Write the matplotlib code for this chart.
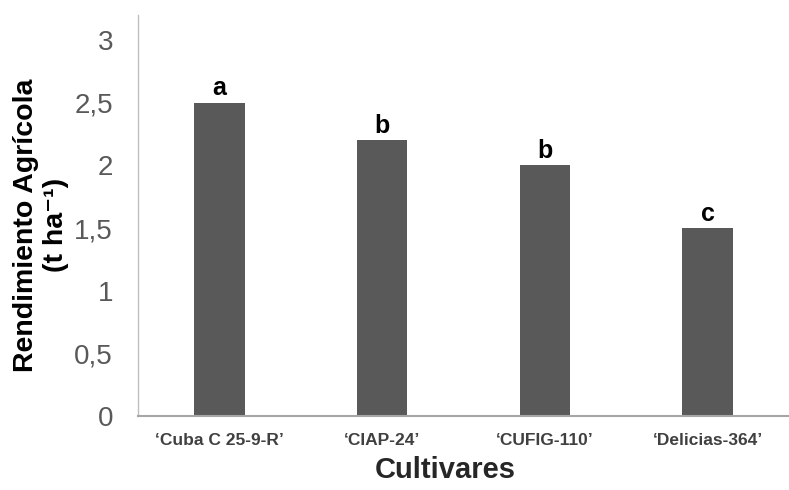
import matplotlib
matplotlib.use("Agg")
import matplotlib.pyplot as plt

# data
cultivares = ["\u2018Cuba C 25-9-R\u2019", "\u2018CIAP-24\u2019", "\u2018CUFIG-110\u2019", "\u2018Delicias-364\u2019"]
rendimiento = [2.5, 2.2, 2.0, 1.5]
letras = ["a", "b", "b", "c"]
yticks = [0, 0.5, 1, 1.5, 2, 2.5, 3]
ytick_labels = ["0", "0,5", "1", "1,5", "2", "2,5", "3"]

fuente = ["Liberation Sans", "DejaVu Sans"]

fig = plt.figure(figsize=(7.89, 4.90), dpi=100)
ax = fig.add_axes([0.175, 0.151, 0.825, 0.818])

x = range(len(cultivares))
ax.bar(x, rendimiento, width=0.31, color="#595959", zorder=2)

# significance letters above bars
for i, (v, l) in enumerate(zip(rendimiento, letras)):
    ax.text(i, v + 0.02, l, ha="center", va="bottom", fontsize=18,
            fontweight="bold", family=fuente, color="black")

ax.set_xlim(-0.5, 3.5)
ax.set_ylim(0, 3.2)
ax.set_yticks(yticks)
ax.set_yticklabels(ytick_labels, family=fuente, fontsize=20, color="#595959")
ax.set_xticks(list(x))
ax.set_xticklabels(cultivares, family=fuente, fontsize=12.5, fontweight="bold", color="#404040")
ax.tick_params(axis="y", length=0, pad=18)
ax.tick_params(axis="x", length=0, pad=12)

for s in ["top", "right"]:
    ax.spines[s].set_visible(False)
ax.spines["left"].set_color("#bfbfbf")
ax.spines["bottom"].set_color("#a6a6a6")
ax.spines["left"].set_linewidth(1.0)
ax.spines["bottom"].set_linewidth(1.5)

ax.set_xlabel("Cultivares", family=fuente, fontsize=21, fontweight="bold",
              color="#262626")
ax.xaxis.set_label_coords(0.472, -0.1)

fig.text(0.052, 0.541, "Rendimiento Agr\u00edcola\n(t ha\u207b\u00b9)", rotation=90,
         ha="center", va="center", multialignment="center", fontsize=20.5,
         fontweight="bold", family=fuente, color="black", linespacing=1.2)

fig.savefig("out.png", dpi=100)
